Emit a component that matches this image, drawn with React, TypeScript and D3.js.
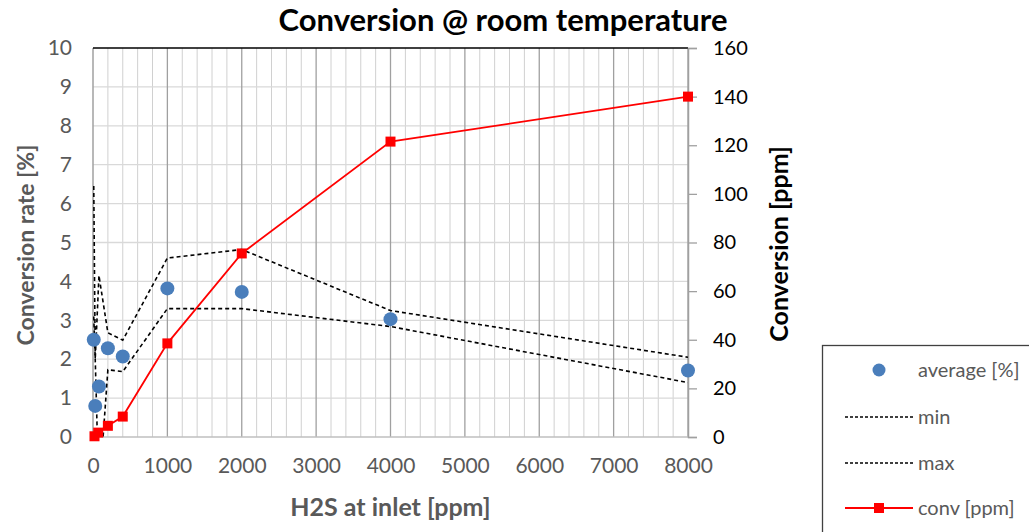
import React, { useEffect, useRef } from "react";
import * as d3 from "d3";

// values
const X_TICKS = [0, 1000, 2000, 3000, 4000, 5000, 6000, 7000, 8000];
const LEFT_TICKS = [0, 1, 2, 3, 4, 5, 6, 7, 8, 9, 10];
const RIGHT_TICKS = [0, 20, 40, 60, 80, 100, 120, 140, 160];

const AVG_X = [10, 30, 80, 200, 400, 1000, 2000, 4000, 8000];
const AVG_Y = [2.5, 0.8, 1.3, 2.28, 2.07, 3.82, 3.73, 3.03, 1.71];
const MAX_Y = [6.45, 2.0, 4.15, 2.68, 2.49, 4.6, 4.82, 3.25, 2.05];
const MIN_Y = [3.1, 2.0, -1.5, 1.73, 1.68, 3.3, 3.3, 2.84, 1.4];

const CONV_X = [20, 70, 200, 400, 1000, 2000, 4000, 8000];
const CONV_Y = [0.3, 1.8, 4.6, 8.4, 38.5, 75.5, 121.5, 140];

const LEGEND = ["average [%]", "min", "max", "conv [ppm]"];

const WIDTH = 1029;
const HEIGHT = 532;
const PLOT = { left: 93, right: 688, top: 48, bottom: 437 };
const FONT = "Lato, 'Open Sans', sans-serif";
const GREY_TEXT = "#595959";
const BLUE = "#4a7ebb";
const RED = "#ff0000";

const X_SCALE = d3.scaleLinear().domain([0, 8000]).range([PLOT.left, PLOT.right]);
const YL_SCALE = d3.scaleLinear().domain([0, 10]).range([PLOT.bottom, PLOT.top]);
const YR_SCALE = d3.scaleLinear().domain([0, 160]).range([PLOT.bottom, PLOT.top]);

export default function App() {
  const ref = useRef<SVGSVGElement>(null);

  useEffect(() => {
    const svg = d3.select(ref.current);
    svg.selectAll("*").remove();

    svg
      .append("defs")
      .append("clipPath")
      .attr("id", "plot-clip")
      .append("rect")
      .attr("x", PLOT.left)
      .attr("y", PLOT.top)
      .attr("width", PLOT.right - PLOT.left)
      .attr("height", PLOT.bottom - PLOT.top);

    // grid: minor verticals every 200, major every 1000, horizontals every 1
    const grid = svg.append("g");
    grid
      .selectAll("line.minor")
      .data(d3.range(200, 8000, 200).filter((v) => v % 1000 !== 0))
      .join("line")
      .attr("x1", (d) => X_SCALE(d))
      .attr("x2", (d) => X_SCALE(d))
      .attr("y1", PLOT.top)
      .attr("y2", PLOT.bottom)
      .attr("stroke", "#d0d0d0")
      .attr("stroke-width", 1);
    grid
      .selectAll("line.hz")
      .data(LEFT_TICKS.slice(1, -1))
      .join("line")
      .attr("x1", PLOT.left)
      .attr("x2", PLOT.right)
      .attr("y1", (d) => YL_SCALE(d))
      .attr("y2", (d) => YL_SCALE(d))
      .attr("stroke", "#d9d9d9")
      .attr("stroke-width", 1.3);
    grid
      .append("g")
      .selectAll("line")
      .data(X_TICKS.slice(1))
      .join("line")
      .attr("x1", (d) => X_SCALE(d))
      .attr("x2", (d) => X_SCALE(d))
      .attr("y1", PLOT.top)
      .attr("y2", PLOT.bottom)
      .attr("stroke", "#a0a0a0")
      .attr("stroke-width", 1.3);

    // axis lines
    svg.append("line").attr("x1", PLOT.left).attr("x2", PLOT.right).attr("y1", PLOT.bottom).attr("y2", PLOT.bottom).attr("stroke", "#bfbfbf").attr("stroke-width", 1.3);
    svg.append("line").attr("x1", PLOT.left).attr("x2", PLOT.left).attr("y1", PLOT.top).attr("y2", PLOT.bottom).attr("stroke", "#a0a0a0").attr("stroke-width", 1.5);
    svg.append("line").attr("x1", PLOT.left).attr("x2", PLOT.right).attr("y1", PLOT.top).attr("y2", PLOT.top).attr("stroke", "#000").attr("stroke-width", 1.5);

    const rightAxis = d3.axisRight(YR_SCALE).tickValues(RIGHT_TICKS).tickSize(9).tickPadding(16);
    const gR = svg.append("g").attr("transform", `translate(${PLOT.right},0)`).call(rightAxis);
    gR.select(".domain").attr("stroke", "#a0a0a0").attr("stroke-width", 1.5);
    gR.selectAll(".tick line").attr("stroke", "#a0a0a0").attr("stroke-width", 1.3);
    gR.selectAll(".tick text").attr("fill", "#000").attr("font-size", 20).attr("font-family", FONT);

    const leftAxis = d3.axisLeft(YL_SCALE).tickValues(LEFT_TICKS).tickSize(0).tickPadding(21);
    const gL = svg.append("g").attr("transform", `translate(${PLOT.left},0)`).call(leftAxis);
    gL.select(".domain").remove();
    gL.selectAll(".tick text").attr("fill", GREY_TEXT).attr("font-size", 21).attr("font-family", FONT);

    const bottomAxis = d3.axisBottom(X_SCALE).tickValues(X_TICKS).tickFormat(d3.format("d")).tickSize(0).tickPadding(21);
    const gB = svg.append("g").attr("transform", `translate(0,${PLOT.bottom})`).call(bottomAxis);
    gB.select(".domain").remove();
    gB.selectAll(".tick text").attr("fill", GREY_TEXT).attr("font-size", 21).attr("font-family", FONT);

    // series
    const plot = svg.append("g").attr("clip-path", "url(#plot-clip)");
    const lineL = d3
      .line<number>()
      .x((d, i) => X_SCALE(AVG_X[i]))
      .y((d) => YL_SCALE(d));
    [MIN_Y, MAX_Y].forEach((vals) => {
      plot
        .append("path")
        .attr("d", lineL(vals))
        .attr("fill", "none")
        .attr("stroke", "#000")
        .attr("stroke-width", 1.6)
        .attr("stroke-dasharray", "4,3");
    });

    svg
      .append("g")
      .selectAll("circle")
      .data(AVG_Y)
      .join("circle")
      .attr("cx", (d, i) => X_SCALE(AVG_X[i]))
      .attr("cy", (d) => YL_SCALE(d))
      .attr("r", 7)
      .attr("fill", BLUE);

    const lineR = d3
      .line<number>()
      .x((d, i) => X_SCALE(CONV_X[i]))
      .y((d) => YR_SCALE(d));
    svg
      .append("path")
      .attr("d", lineR(CONV_Y))
      .attr("fill", "none")
      .attr("stroke", RED)
      .attr("stroke-width", 1.8);
    svg
      .append("g")
      .selectAll("rect")
      .data(CONV_Y)
      .join("rect")
      .attr("x", (d, i) => X_SCALE(CONV_X[i]) - 5)
      .attr("y", (d) => YR_SCALE(d) - 5)
      .attr("width", 10)
      .attr("height", 10)
      .attr("fill", RED);

    // titles
    svg
      .append("text")
      .attr("x", 503)
      .attr("y", 31)
      .attr("text-anchor", "middle")
      .attr("font-family", FONT)
      .attr("font-weight", "bold")
      .attr("font-size", 31)
      .attr("fill", "#000")
      .text("Conversion @ room temperature");
    svg
      .append("text")
      .attr("x", (PLOT.left + PLOT.right) / 2)
      .attr("y", 516)
      .attr("text-anchor", "middle")
      .attr("font-family", FONT)
      .attr("font-weight", "bold")
      .attr("font-size", 25)
      .attr("fill", GREY_TEXT)
      .text("H2S at inlet [ppm]");
    svg
      .append("text")
      .attr("transform", "translate(34,245) rotate(-90)")
      .attr("text-anchor", "middle")
      .attr("font-family", FONT)
      .attr("font-weight", "bold")
      .attr("font-size", 23)
      .attr("fill", GREY_TEXT)
      .text("Conversion rate [%]");
    svg
      .append("text")
      .attr("transform", "translate(788,244) rotate(-90)")
      .attr("text-anchor", "middle")
      .attr("font-family", FONT)
      .attr("font-weight", "bold")
      .attr("font-size", 25)
      .attr("fill", "#000")
      .text("Conversion [ppm]");

    // legend
    const lg = svg.append("g");
    lg.append("rect")
      .attr("x", 822.5)
      .attr("y", 345.5)
      .attr("width", 220)
      .attr("height", 200)
      .attr("fill", "#fff")
      .attr("stroke", "#404040")
      .attr("stroke-width", 1.3);
    const rows = [370, 417, 463, 508];
    LEGEND.forEach((name, i) => {
      const y = rows[i];
      lg.append("text")
        .attr("x", 918)
        .attr("y", y + 7)
        .attr("font-family", FONT)
        .attr("font-size", 20)
        .attr("fill", GREY_TEXT)
        .text(name);
      if (i === 0) {
        lg.append("circle").attr("cx", 879).attr("cy", y).attr("r", 6.5).attr("fill", BLUE);
      } else if (i < 3) {
        lg.append("line")
          .attr("x1", 845)
          .attr("x2", 913)
          .attr("y1", y)
          .attr("y2", y)
          .attr("stroke", "#000")
          .attr("stroke-width", 1.5)
          .attr("stroke-dasharray", "3,2");
      } else {
        lg.append("line").attr("x1", 845).attr("x2", 913).attr("y1", y).attr("y2", y).attr("stroke", RED).attr("stroke-width", 1.8);
        lg.append("rect").attr("x", 874).attr("y", y - 5).attr("width", 10).attr("height", 10).attr("fill", RED);
      }
    });
  }, []);

  return (
    <svg
      ref={ref}
      width={WIDTH}
      height={HEIGHT}
      style={{ position: "absolute", left: 0, top: 0, background: "#fff" }}
    />
  );
}
